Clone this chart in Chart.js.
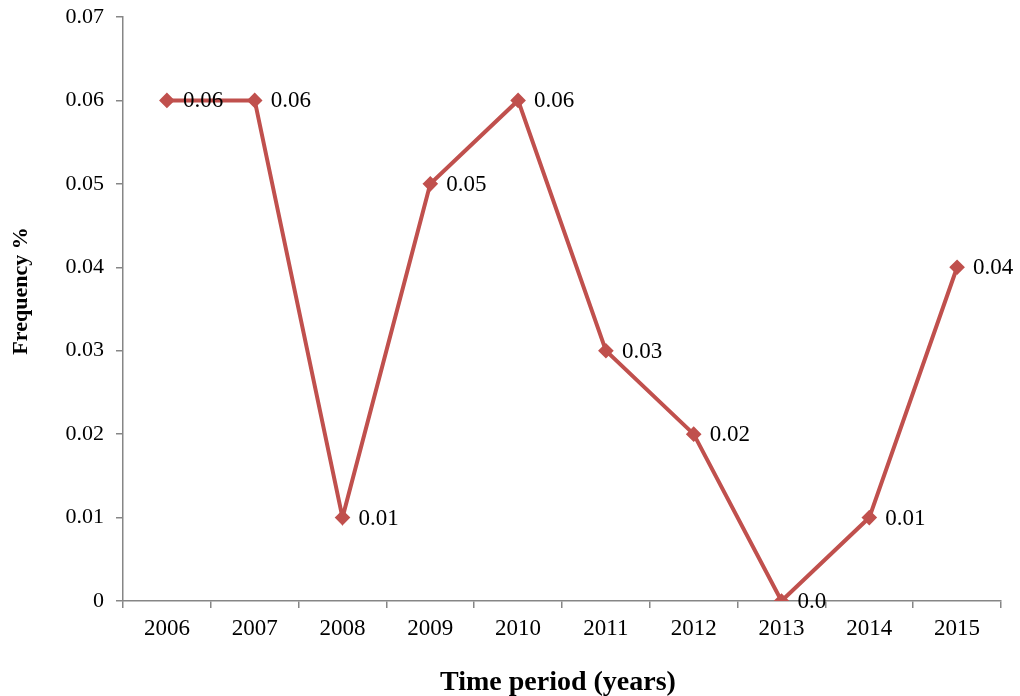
<!DOCTYPE html>
<html>
<head>
<meta charset="utf-8">
<script src="https://cdn.jsdelivr.net/npm/chart.js@4/dist/chart.umd.min.js"></script>
<style>
  html, body { margin: 0; padding: 0; background: #ffffff; }
  #wrap { width: 1020px; height: 696px; position: relative; }
</style>
</head>
<body>
<div id="wrap"><canvas id="chart" width="1020" height="696"></canvas></div>
<script>
// Yearly frequency values
const years = ['2006', '2007', '2008', '2009', '2010', '2011', '2012', '2013', '2014', '2015'];
const frequency = [0.06, 0.06, 0.01, 0.05, 0.06, 0.03, 0.02, 0.0, 0.01, 0.04];
const pointLabels = ['0.06', '0.06', '0.01', '0.05', '0.06', '0.03', '0.02', '0.0', '0.01', '0.04'];
const yTicks = [0, 0.01, 0.02, 0.03, 0.04, 0.05, 0.06, 0.07];
const xTitle = 'Time period (years)';
const yTitle = 'Frequency %';

const LINE_COLOR = '#C0504D';
const AXIS_COLOR = '#868686';
const SERIF = '"Liberation Serif", "Times New Roman", serif';

// Writes each point's value just to the right of its marker
const valueLabels = {
  id: 'valueLabels',
  afterDatasetsDraw(chart) {
    const ctx = chart.ctx;
    const meta = chart.getDatasetMeta(0);
    ctx.save();
    ctx.font = '23px ' + SERIF;
    ctx.fillStyle = '#000000';
    ctx.textAlign = 'left';
    ctx.textBaseline = 'middle';
    meta.data.forEach((pt, i) => {
      ctx.fillText(pointLabels[i], pt.x + 16, pt.y + 1);
    });
    ctx.restore();
  }
};

// Axis titles, placed relative to the plot area
const axisTitles = {
  id: 'axisTitles',
  afterDraw(chart) {
    const ctx = chart.ctx;
    const area = chart.chartArea;
    ctx.save();
    ctx.fillStyle = '#000000';
    ctx.textAlign = 'center';
    ctx.textBaseline = 'middle';

    ctx.font = 'bold 28px ' + SERIF;
    ctx.fillText(xTitle, (area.left + area.right) / 2 - 4, chart.height - 13);

    ctx.font = 'bold 22px ' + SERIF;
    ctx.translate(21, (area.top + area.bottom) / 2 - 18);
    ctx.rotate(-Math.PI / 2);
    ctx.fillText(yTitle, 0, 0);
    ctx.restore();
  }
};

new Chart(document.getElementById('chart'), {
  type: 'line',
  data: {
    labels: years,
    datasets: [{
      data: frequency,
      borderColor: LINE_COLOR,
      backgroundColor: LINE_COLOR,
      borderWidth: 4,
      pointStyle: 'rectRot',
      pointRadius: 5,
      pointHoverRadius: 5,
      tension: 0,
      fill: false
    }]
  },
  options: {
    responsive: false,
    animation: false,
    events: [],
    layout: { padding: { left: 0, right: 19, top: 17, bottom: 0 } },
    plugins: {
      legend: { display: false },
      tooltip: { enabled: false }
    },
    scales: {
      x: {
        type: 'category',
        offset: true,
        grid: {
          display: true,
          drawOnChartArea: false,
          drawTicks: true,
          tickLength: 7,
          offset: true,
          color: AXIS_COLOR,
          lineWidth: 1.5
        },
        border: { display: true, color: AXIS_COLOR, width: 1.5 },
        ticks: {
          color: '#000000',
          font: { family: SERIF, size: 23 },
          padding: 7,
          maxRotation: 0,
          autoSkip: false
        },
        afterFit(scale) { scale.height = 95; }
      },
      y: {
        min: 0,
        max: 0.07,
        afterBuildTicks(scale) {
          scale.ticks = yTicks.map(v => ({ value: v }));
        },
        grid: {
          display: true,
          drawOnChartArea: false,
          drawTicks: true,
          tickLength: 7,
          color: AXIS_COLOR,
          lineWidth: 1.5
        },
        border: { display: true, color: AXIS_COLOR, width: 1.5 },
        ticks: {
          color: '#000000',
          font: { family: SERIF, size: 22 },
          padding: 12,
          callback(v) { return v === 0 ? '0' : v.toFixed(2); }
        },
        afterFit(scale) {
          scale.width = 123;
          scale.paddingTop = 0;
          scale.paddingBottom = 0;
        }
      }
    }
  },
  plugins: [valueLabels, axisTitles]
});
</script>
</body>
</html>
